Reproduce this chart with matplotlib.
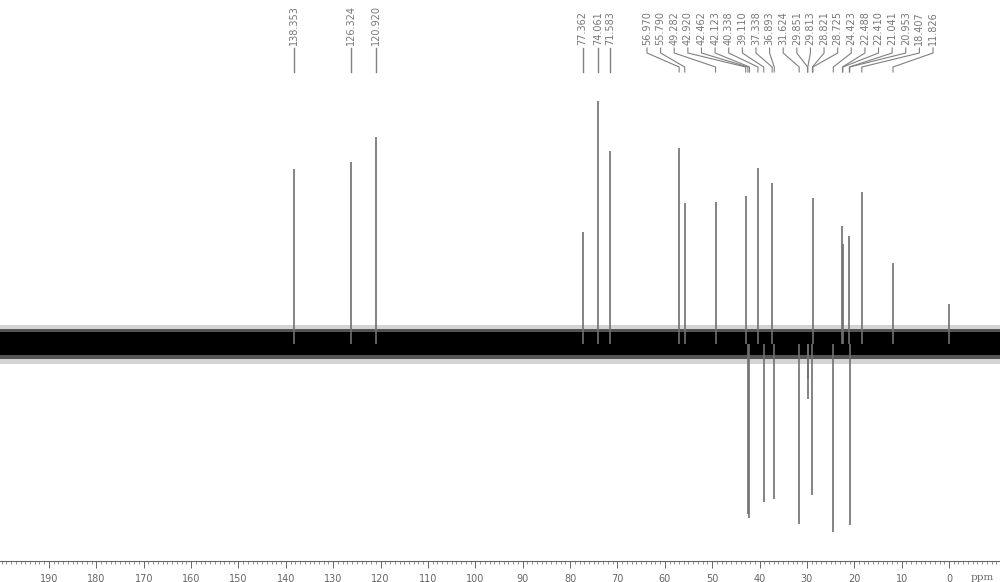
import numpy as np
import matplotlib.pyplot as plt

# peak positions (ppm) and heights (positive = up, negative = down)
peak_ppm = [138.353, 126.324, 120.920, 77.362, 74.061, 71.583,
            56.970, 55.790, 49.282, 42.920, 42.462, 42.123, 40.338, 39.110,
            37.338, 36.893, 31.624, 29.851, 29.813, 28.821, 28.725, 24.423,
            22.488, 22.410, 21.041, 20.953, 18.407, 11.826, 0.0]
peak_height = [175, 182, 207, 112, 243, 193,
               196, 141, 142, 148, -170, -174, 176, -158,
               161, -155, -180, -55, -35, -151, 146, -188,
               118, 100, 108, -181, 152, 81, 40]

# labels written above the spectrum
single_labels = ["138.353", "126.324", "120.920", "77.362", "74.061", "71.583"]
group_labels = ["56.970", "55.790", "49.282", "42.920", "42.462", "42.123",
                "40.338", "39.110", "37.338", "36.893", "31.624", "29.851",
                "29.813", "28.821", "28.725", "24.423", "22.488", "22.410",
                "21.041", "20.953", "18.407", "11.826"]

major_ticks = np.arange(0, 200, 10)
minor_ticks = np.arange(-10, 201, 1)

# pixel <-> ppm helpers (0 ppm at x=949 px, 4.737 px per ppm)
def px2ppm(x):
    return (949 - x) / 4.737


def ypx(p):
    return 344 - p


fig = plt.figure(figsize=(10, 5.82), dpi=100)
ax = fig.add_axes([0, 21 / 582, 1, 561 / 582])
ax.set_xlim(px2ppm(0), px2ppm(1000))
ax.set_ylim(-217, 344)

# baseline noise band
ax.fill_between([px2ppm(0), px2ppm(1000)], -20, 19, color='#d4d4d4', lw=0)
ax.fill_between([px2ppm(0), px2ppm(1000)], -15, 15, color='#555555', lw=0)
ax.fill_between([px2ppm(0), px2ppm(1000)], -11, 12, color='black', lw=0)

# peaks
ax.vlines(peak_ppm, 0, peak_height, color='#707070', lw=1.2)

# label text and connector lines
for lab in single_labels:
    v = float(lab)
    ax.text(v, ypx(45), lab, rotation=90, ha='center', va='bottom',
            fontsize=7, color='#777777')
    ax.plot([v, v], [ypx(48), ypx(72)], color='#808080', lw=1.0)

label_x = np.linspace(647, 933, len(group_labels))
for lab, lx in zip(group_labels, label_x):
    v = float(lab)
    lv = px2ppm(lx)
    ax.text(lv, ypx(45), lab, rotation=90, ha='center', va='bottom',
            fontsize=7, color='#777777')
    ax.plot([lv, lv, v, v], [ypx(48), ypx(53), ypx(67), ypx(72)],
            color='#808080', lw=0.8)

# ppm axis
for s in ['left', 'right', 'top']:
    ax.spines[s].set_visible(False)
ax.spines['bottom'].set_color('#666666')
ax.spines['bottom'].set_linewidth(0.8)
ax.set_yticks([])
ax.set_xticks(major_ticks)
ax.set_xticks(minor_ticks, minor=True)
ax.tick_params(axis='x', which='major', direction='out', length=5, width=0.7,
               colors='#666666', labelsize=7, pad=4)
ax.tick_params(axis='x', which='minor', direction='out', length=2.5, width=0.5,
               colors='#666666')
ax.text(px2ppm(982), ypx(577), 'ppm', ha='center', va='center', fontsize=7.5,
        color='#666666', family='DejaVu Serif', clip_on=False)

fig.savefig('out.png', dpi=100)
